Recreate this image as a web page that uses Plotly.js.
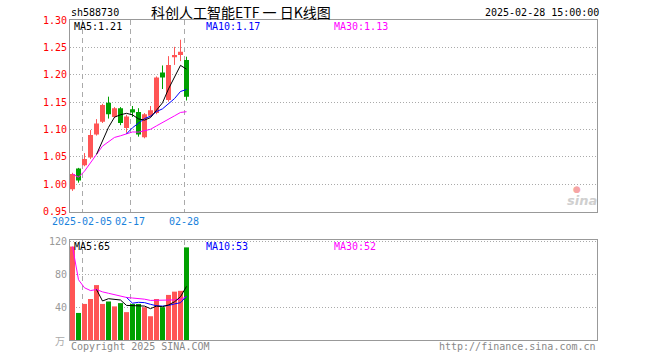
<!DOCTYPE html>
<html><head><meta charset="utf-8">
<script src="https://cdn.plot.ly/plotly-3.0.1.min.js"></script>
<style>html,body{margin:0;padding:0;background:#fff}#chart{width:660px;height:360px}</style>
</head><body><div id="chart"></div>
<script>
// ---------- data ----------
const dates = ['2025-01-24','2025-01-27','2025-02-05','2025-02-06','2025-02-07','2025-02-10','2025-02-11','2025-02-12','2025-02-13','2025-02-14',
               '2025-02-17','2025-02-18','2025-02-19','2025-02-20','2025-02-21','2025-02-24','2025-02-25','2025-02-26','2025-02-27','2025-02-28'];
const tickDates  = ['2025-02-05','2025-02-17','2025-02-28'];
const tickLabels = ['2025-02-05','02-17','02-28'];
const openP  = [0.991,1.029,1.035,1.049,1.091,1.114,1.149,1.123,1.139,1.103,1.137,1.132,1.086,1.125,1.130,1.204,1.154,1.232,1.236,1.227];
const closeP = [1.019,1.007,1.046,1.090,1.111,1.145,1.128,1.139,1.112,1.124,1.131,1.091,1.128,1.135,1.195,1.195,1.218,1.236,1.242,1.160];
const highP  = [1.021,1.030,1.057,1.099,1.119,1.147,1.160,1.141,1.141,1.127,1.143,1.139,1.130,1.143,1.197,1.217,1.234,1.251,1.264,1.233];
const lowP   = [0.988,1.003,1.033,1.046,1.089,1.112,1.120,1.121,1.108,1.094,1.123,1.087,1.084,1.123,1.128,1.174,1.151,1.218,1.225,1.153];
const volume = [114,33,44,50,67,44,47,41,45,34,44,44,40,29,50,40,55,59,60,113];
const ma5  = [null,null,null,null,1.0546,1.0798,1.104,1.1226,1.127,1.1296,1.1268,1.1194,1.1172,1.1218,1.136,1.1488,1.1742,1.1958,1.2172,1.2102];
const ma10 = [null,null,null,null,null,null,null,null,null,1.0921,1.1033,1.1117,1.1199,1.1244,1.1328,1.1378,1.1468,1.1565,1.1695,1.1731];
const ma30 = [1.019,1.013,1.024,1.0405,1.0546,1.0697,1.078,1.0856,1.0886,1.0921,1.0956,1.0953,1.0978,1.1004,1.1067,1.1123,1.1185,1.125,1.1312,1.1326];
const volMa5  = [null,null,null,null,61.6,47.6,50.4,49.8,48.8,42.2,42.2,41.6,41.4,38.2,41.4,40.6,42.8,46.6,52.8,65.4];
const volMa10 = [null,null,null,null,null,null,null,null,null,51.9,44.9,46.0,45.6,43.5,41.8,41.4,42.2,44.0,45.5,53.4];
const volMa30 = [114,73.5,63.7,60.3,61.6,58.7,57.0,55.0,53.9,51.9,51.2,50.6,49.8,48.3,48.4,47.9,48.3,48.9,49.5,52.7];
const priceTicks = [0.95,1.00,1.05,1.10,1.15,1.20,1.25,1.30];
const volTicks = [40,80,120];
const maLabels = ['MA5:1.21','MA10:1.17','MA30:1.13'];
const volMaLabels = ['MA5:65','MA10:53','MA30:52'];

// ---------- drawing ----------
const L=70, R=597, T=20, B=340;
const PW=R-L, PH=B-T;
const xMax = PW/6;
const off = 2.5/6;
const xs = dates.map((d,i)=>i+off);
const up = closeP.map((c,i)=>c>=openP[i]);
const RED='#ff5555', GREEN='#00a000';
const MONO='DejaVu Sans Mono, monospace';

function wicks(flag){
  const x=[],y=[];
  dates.forEach((d,i)=>{ if(up[i]===flag){ x.push(xs[i],xs[i],null); y.push(lowP[i],highP[i],null);} });
  return {type:'scatter',mode:'lines',x,y,line:{color:flag?RED:GREEN,width:1},xaxis:'x',yaxis:'y',hoverinfo:'skip',showlegend:false};
}
function maLine(vals,color,xa,ya){
  return {type:'scatter',mode:'lines',x:xs,y:vals,line:{color,width:1},xaxis:xa,yaxis:ya,hoverinfo:'skip',showlegend:false,connectgaps:false};
}
const colors = up.map(u=>u?RED:GREEN);
const traces = [
  wicks(true), wicks(false),
  {type:'bar',x:xs,base:openP.map((o,i)=>Math.min(o,closeP[i])),y:openP.map((o,i)=>Math.max(Math.abs(closeP[i]-o),0.0015)),
   width:5/6,marker:{color:colors,line:{width:0}},xaxis:'x',yaxis:'y',hoverinfo:'skip',showlegend:false},
  maLine(ma30,'#ff00ff','x','y'), maLine(ma10,'#0000ff','x','y'), maLine(ma5,'#000000','x','y'),
  {type:'bar',x:xs,y:volume,width:5/6,marker:{color:colors,line:{width:0}},xaxis:'x2',yaxis:'y2',hoverinfo:'skip',showlegend:false},
  maLine(volMa30,'#ff00ff','x2','y2'), maLine(volMa10,'#0000ff','x2','y2'), maLine(volMa5,'#000000','x2','y2')
];

const px = v=>(v-L)/PW, py = v=>(B-v)/PH;
function ann(text,x,y,color,anchor,size,family){
  return {text,x:px(x),y:py(y),xref:'paper',yref:'paper',xanchor:anchor,yanchor:'middle',showarrow:false,
          font:{family:family||MONO,size:size||10,color},borderpad:0};
}
const tickIdx = tickDates.map(d=>dates.indexOf(d));
const baseX = {range:[0,xMax],tickvals:tickIdx,showgrid:true,gridcolor:'#aaa',griddash:'5px,4px',gridwidth:1,
  showline:true,linecolor:'#999',linewidth:1,mirror:true,ticks:'',zeroline:false,fixedrange:true};
const baseY = {showgrid:true,gridcolor:'#aaa',griddash:'1px,2px',gridwidth:1,showline:true,linecolor:'#999',linewidth:1,
  mirror:true,ticks:'',zeroline:false,fixedrange:true};

const layout = {
  width:660,height:360,margin:{l:L,r:660-R,t:T,b:360-B},
  paper_bgcolor:'#fff',plot_bgcolor:'#fff',barmode:'overlay',hovermode:false,showlegend:false,
  xaxis:Object.assign({},baseX,{domain:[0,1],anchor:'y',ticktext:tickLabels,
        tickfont:{family:MONO,size:10,color:'#1a82dc'}}),
  yaxis:Object.assign({},baseY,{domain:[(B-211.7)/PH,1],range:[0.95,1.30],tickvals:priceTicks,tickformat:'.2f',
        tickfont:{family:MONO,size:10,color:'#ff0000'}}),
  xaxis2:Object.assign({},baseX,{domain:[0,1],anchor:'y2',showticklabels:false}),
  yaxis2:Object.assign({},baseY,{domain:[0,(B-240)/PH],range:[0,122],tickvals:volTicks,
        tickfont:{family:MONO,size:10,color:'#999'}}),
  annotations:[
    ann('sh588730',70,12,'#000','left'),
    ann('科创人工智能ETF 一 日K线图',150,12,'#000','left',14,'Noto Sans CJK SC'),
    ann('2025-02-28 15:00:00',600,12,'#000','right'),
    ann(maLabels[0],73,26.5,'#000','left'),
    ann(maLabels[1],205,26.5,'#0000ff','left'),
    ann(maLabels[2],333,26.5,'#ff00ff','left'),
    ann(volMaLabels[0],73,246.5,'#000','left'),
    ann(volMaLabels[1],205,246.5,'#0000ff','left'),
    ann(volMaLabels[2],333,246.5,'#ff00ff','left'),
    ann('万',66,340,'#aaa','right',10,'Noto Sans CJK SC'),
    ann('Copyright 2025 SINA.COM',70,346,'#888','left'),
    ann('http://finance.sina.com.cn',597,346,'#888','right'),
    ann('<b><i>sina</i></b>',582,200,'#cfcfcf','center',13,'DejaVu Sans'),
    ann('●',577,189,'#f6a5a5','center',9,'DejaVu Sans')
  ]
};
Plotly.newPlot('chart',traces,layout,{staticPlot:true,displayModeBar:false});
</script></body></html>
